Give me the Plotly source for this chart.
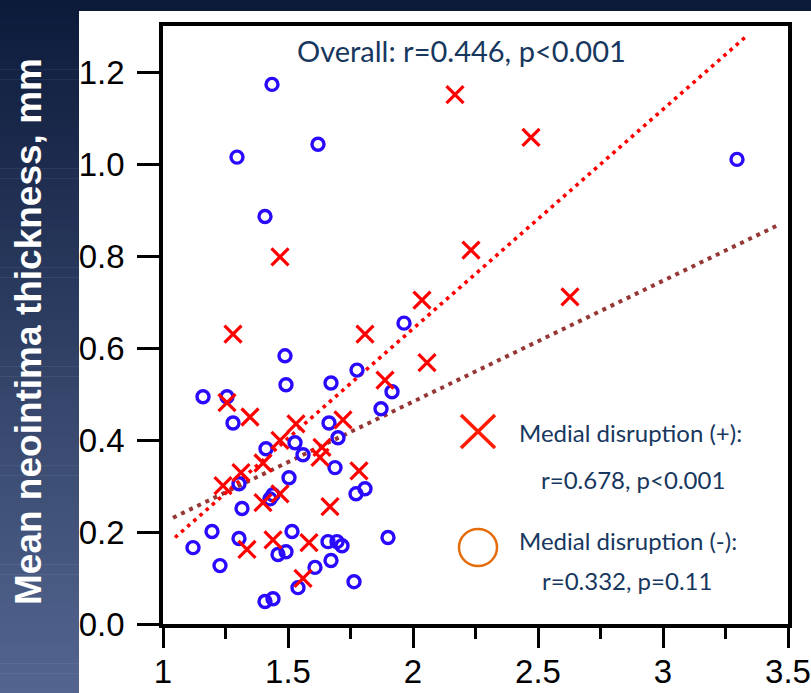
import plotly.graph_objects as go

# ---------------- data ----------------
md_pos_x = [2.168, 2.472, 1.468, 2.232, 2.036, 2.628, 1.280, 1.808, 2.056, 1.888,
            1.256, 1.348, 1.532, 1.720, 1.468, 1.636, 1.628, 1.400, 1.312, 1.240,
            1.784, 1.468, 1.400, 1.668, 1.336, 1.440, 1.584, 1.560]
md_pos_y = [1.151, 1.058, 0.798, 0.813, 0.704, 0.711, 0.630, 0.630, 0.568, 0.530,
            0.481, 0.450, 0.435, 0.444, 0.399, 0.384, 0.362, 0.350, 0.329, 0.301,
            0.333, 0.283, 0.264, 0.255, 0.162, 0.183, 0.177, 0.099]

md_neg_x = [1.436, 1.296, 1.620, 1.408, 3.296, 1.964, 1.488, 1.776, 1.160, 1.256,
            1.280, 1.492, 1.672, 1.872, 1.916, 1.664, 1.700, 1.412, 1.528, 1.560,
            1.688, 1.504, 1.304, 1.440, 1.428, 1.316, 1.772, 1.808, 1.120, 1.196,
            1.304, 1.228, 1.516, 1.460, 1.492, 1.660, 1.696, 1.716, 1.900, 1.672,
            1.608, 1.540, 1.764, 1.408, 1.440]
md_neg_y = [1.173, 1.015, 1.043, 0.886, 1.010, 0.654, 0.583, 0.552, 0.494, 0.494,
            0.437, 0.520, 0.524, 0.468, 0.505, 0.437, 0.405, 0.381, 0.394, 0.368,
            0.340, 0.318, 0.305, 0.281, 0.272, 0.251, 0.283, 0.294, 0.166, 0.201,
            0.186, 0.127, 0.201, 0.151, 0.157, 0.179, 0.179, 0.170, 0.188, 0.138,
            0.123, 0.079, 0.092, 0.049, 0.055]

fit_pos_x = [1.048, 3.336]
fit_pos_y = [0.188, 1.279]
fit_all_x = [1.040, 3.460]
fit_all_y = [0.231, 0.867]

x_ticks = [1, 1.5, 2, 2.5, 3, 3.5]
x_tick_labels = ["1", "1.5", "2", "2.5", "3", "3.5"]
y_ticks = [0.0, 0.2, 0.4, 0.6, 0.8, 1.0, 1.2]
y_tick_labels = ["0.0", "0.2", "0.4", "0.6", "0.8", "1.0", "1.2"]

overall_text = "Overall: r=0.446, p<0.001"
legend_texts = ["Medial disruption (+):", "r=0.678, p<0.001",
                "Medial disruption (-):", "r=0.332, p=0.11"]
y_title = "Mean neointima thickness, mm"

# ---------------- layout geometry ----------------
W, H = 811, 693
ML, MR, MT, MB = 163, 23, 26, 69
PW, PH = W - ML - MR, H - MT - MB


def px(xp):
    return (xp - ML) / PW


def py(yp):
    return (H - MB - yp) / PH


TEXT_COL = "#17375E"
TXT_FONT = "Lato, Open Sans, sans-serif"

fig = go.Figure()

fig.add_trace(go.Scatter(x=fit_all_x, y=fit_all_y, mode="lines",
                         line=dict(color="#953735", width=4, dash="4px,5px"),
                         hoverinfo="skip", showlegend=False))
fig.add_trace(go.Scatter(x=fit_pos_x, y=fit_pos_y, mode="lines",
                         line=dict(color="#FF0000", width=3.6, dash="3.6px,4.6px"),
                         hoverinfo="skip", showlegend=False))
fig.add_trace(go.Scatter(x=md_neg_x, y=md_neg_y, mode="markers",
                         marker=dict(symbol="circle-open", size=12, color="#2A0AFF",
                                     line=dict(width=3.4, color="#2A0AFF")),
                         showlegend=False))
fig.add_trace(go.Scatter(x=md_pos_x, y=md_pos_y, mode="markers",
                         marker=dict(symbol="x-thin-open", size=17, color="#FF0000",
                                     line=dict(width=3.2, color="#FF0000")),
                         showlegend=False))

shapes = []
# left gradient strip
top_rgb = (12, 26, 58)
bot_rgb = (84, 102, 144)
N = 70
for i in range(N):
    y0p = H * i / N
    y1p = H * (i + 1) / N
    t = (i + 0.5) / N
    c = tuple(round(top_rgb[k] + (bot_rgb[k] - top_rgb[k]) * t) for k in range(3))
    shapes.append(dict(type="rect", xref="paper", yref="paper", layer="below",
                       x0=px(0), x1=px(79), y0=py(y1p + 0.5), y1=py(y0p),
                       fillcolor="rgb(%d,%d,%d)" % c, line=dict(width=0)))
# top strip
shapes.append(dict(type="rect", xref="paper", yref="paper", layer="below",
                   x0=px(79), x1=px(W), y0=py(11), y1=py(0),
                   fillcolor="rgb(12,26,58)", line=dict(width=0)))
# legend glyphs
shapes.append(dict(type="line", xref="paper", yref="paper",
                   x0=px(461), y0=py(415), x1=px(495), y1=py(448),
                   line=dict(color="#FF1A00", width=3.5)))
shapes.append(dict(type="line", xref="paper", yref="paper",
                   x0=px(461), y0=py(448), x1=px(495), y1=py(415),
                   line=dict(color="#FF1A00", width=3.5)))
shapes.append(dict(type="circle", xref="paper", yref="paper",
                   x0=px(459), x1=px(497), y0=py(566), y1=py(529),
                   line=dict(color="#E46C0A", width=2.5)))

annotations = [
    dict(text=overall_text, xref="paper", yref="paper", x=px(461), y=py(51),
         showarrow=False, xanchor="center", yanchor="middle",
         font=dict(family=TXT_FONT, size=29, color=TEXT_COL)),
    dict(text=legend_texts[0], xref="paper", yref="paper", x=px(517), y=py(432),
         showarrow=False, xanchor="left", yanchor="middle",
         font=dict(family=TXT_FONT, size=24, color=TEXT_COL)),
    dict(text=legend_texts[1], xref="paper", yref="paper", x=px(633), y=py(480),
         showarrow=False, xanchor="center", yanchor="middle",
         font=dict(family=TXT_FONT, size=24, color=TEXT_COL)),
    dict(text=legend_texts[2], xref="paper", yref="paper", x=px(517), y=py(540),
         showarrow=False, xanchor="left", yanchor="middle",
         font=dict(family=TXT_FONT, size=24, color=TEXT_COL)),
    dict(text=legend_texts[3], xref="paper", yref="paper", x=px(627), y=py(580),
         showarrow=False, xanchor="center", yanchor="middle",
         font=dict(family=TXT_FONT, size=24, color=TEXT_COL)),
    dict(text="<b>" + y_title + "</b>", xref="paper", yref="paper", x=px(28), y=py(332),
         showarrow=False, xanchor="center", yanchor="middle", textangle=-90,
         font=dict(family="Liberation Sans, Arial, sans-serif", size=37, color="white")),
]

axis_font = dict(family="Liberation Sans, Arial, sans-serif", size=33, color="black")

fig.update_layout(
    template="none",
    width=W, height=H,
    margin=dict(l=ML, r=MR, t=MT, b=MB, pad=0, autoexpand=False),
    paper_bgcolor="white", plot_bgcolor="white",
    shapes=shapes, annotations=annotations,
    showlegend=False,
    xaxis=dict(range=[1, 3.5], tickvals=x_ticks, ticktext=x_tick_labels,
               automargin=False, ticklabeloverflow="allow",
               showgrid=False, zeroline=False,
               showline=True, linecolor="black", linewidth=3.5, mirror=True,
               ticks="outside", ticklen=20, tickwidth=3, tickcolor="black",
               ticklabelstandoff=-4,
               minor=dict(dtick=0.25, tick0=1, ticks="outside", ticklen=11,
                          tickwidth=3, tickcolor="black", showgrid=False),
               tickfont=axis_font),
    yaxis=dict(range=[0, 1.3], tickvals=y_ticks, ticktext=y_tick_labels,
               automargin=False, ticklabeloverflow="allow",
               showgrid=False, zeroline=False,
               showline=True, linecolor="black", linewidth=3.5, mirror=True,
               ticks="outside", ticklen=22, tickwidth=3, tickcolor="black",
               ticklabelstandoff=6,
               tickfont=axis_font),
)

fig.write_html("out.html")
